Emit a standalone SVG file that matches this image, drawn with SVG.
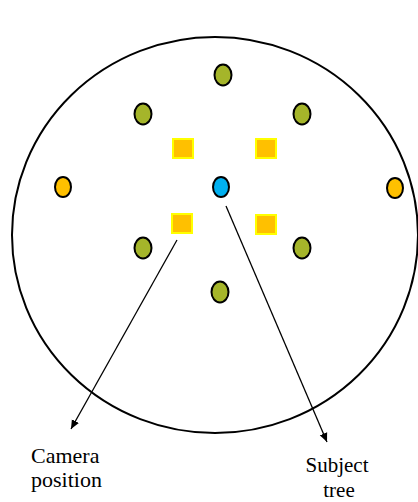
<svg xmlns="http://www.w3.org/2000/svg" width="418" height="502" viewBox="0 0 418 502">
<style>
.g{fill:#A5B52A;stroke:#000;stroke-width:2}
.o{fill:#FFC000;stroke:#000;stroke-width:2}
.b{fill:#00B0F0;stroke:#000;stroke-width:2}
.s{fill:#FFC000;stroke:#FFFF00;stroke-width:2}
.c{stroke:#000;stroke-width:1.3;fill:none;marker-end:url(#a)}
text{font-family:"Liberation Serif","DejaVu Serif",serif;font-size:22px;fill:#000}
.sm{font-size:21px}
</style>
<defs>
<marker id="a" markerWidth="10" markerHeight="10" refX="9" refY="5" orient="auto" markerUnits="userSpaceOnUse">
<path d="M0,1 L9,5 L0,9 Z" fill="#000"/>
</marker>
</defs>
<rect width="418" height="502" fill="#fff"/>
<g id="field"><ellipse cx="215" cy="235" rx="203" ry="198" fill="none" stroke="#000" stroke-width="2"/></g>
<g id="t1"><ellipse class="g" cx="223" cy="75" rx="8.5" ry="10.5"/></g>
<g id="t2"><ellipse class="g" cx="143" cy="114" rx="8.5" ry="10.5"/></g>
<g id="t3"><ellipse class="g" cx="302" cy="114" rx="8.5" ry="10.5"/></g>
<g id="t4"><ellipse class="g" cx="143" cy="248" rx="8.5" ry="10.5"/></g>
<g id="t5"><ellipse class="g" cx="302" cy="248" rx="8.5" ry="10.5"/></g>
<g id="t6"><ellipse class="g" cx="220" cy="292" rx="8.5" ry="10.5"/></g>
<g id="o1"><ellipse class="o" cx="63" cy="187" rx="8" ry="10"/></g>
<g id="o2"><ellipse class="o" cx="395" cy="188" rx="8" ry="10"/></g>
<g id="subject"><ellipse class="b" cx="221" cy="187" rx="8" ry="10"/></g>
<g id="s1"><rect class="s" x="173" y="139" width="20" height="19"/></g>
<g id="s2"><rect class="s" x="256" y="139" width="20" height="19"/></g>
<g id="s3"><rect class="s" x="172" y="214" width="20" height="19"/></g>
<g id="s4"><rect class="s" x="256" y="215" width="20" height="19"/></g>
<g id="connectors">
<line class="c" x1="177" y1="240" x2="71" y2="429"/>
<line class="c" x1="226" y1="206" x2="327" y2="442"/>
</g>
<g id="label-camera"><text x="31" y="463">Camera</text><text x="31" y="487">position</text></g>
<g id="label-subject"><text class="sm" x="337" y="472" text-anchor="middle">Subject</text><text class="sm" x="339" y="497" text-anchor="middle">tree</text></g>
</svg>
